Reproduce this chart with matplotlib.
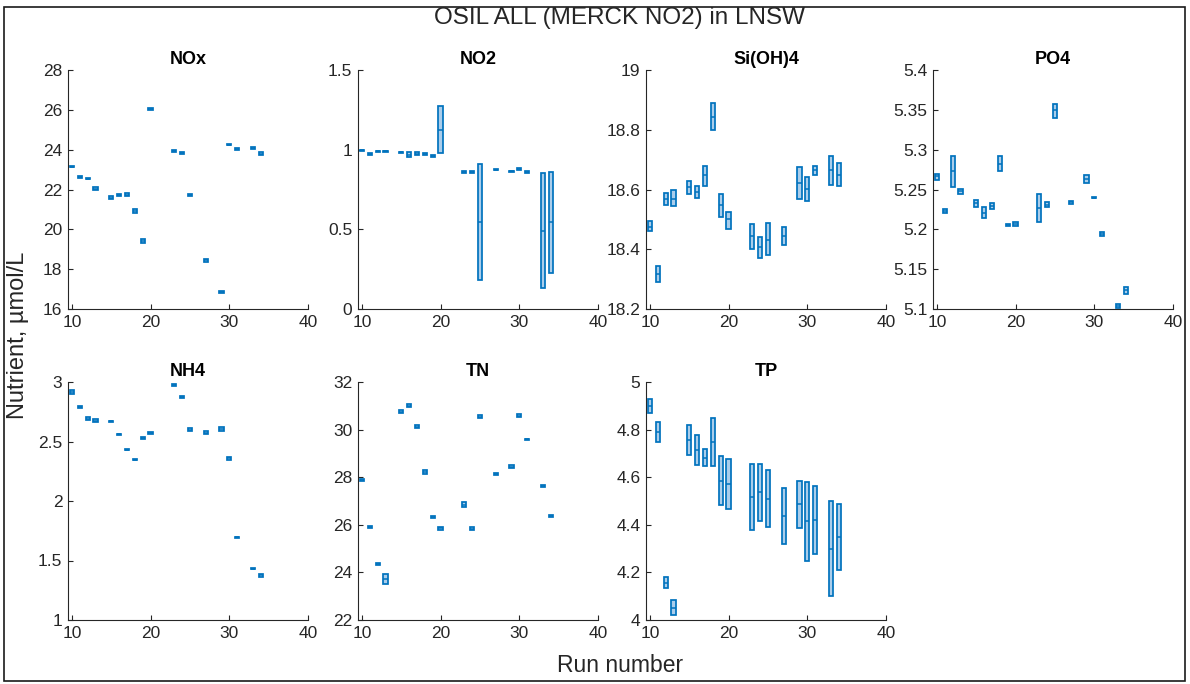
import matplotlib
matplotlib.use("Agg")
import matplotlib.pyplot as plt
from matplotlib.patches import Rectangle
from matplotlib.ticker import FuncFormatter

plt.rcParams['font.family'] = ['Liberation Sans', 'DejaVu Sans']

# Run numbers shared by every nutrient
runs = [10, 11, 12, 13, 15, 16, 17, 18, 19, 20, 23, 24, 25, 27, 29, 30, 31, 33, 34]

# NOx (µmol/L): minimum, maximum, mean per run
nox_lo = [23.11, 22.59, 22.51, 21.96, 21.53, 21.67, 21.68, 20.83, 19.30, 25.97,
          23.88, 23.80, 21.67, 18.38, 16.79, 24.21, 24.00, 24.02, 23.73]
nox_hi = [23.19, 22.67, 22.57, 22.12, 21.65, 21.77, 21.80, 21.01, 19.52, 26.11,
          23.96, 23.90, 21.77, 18.50, 16.89, 24.29, 24.06, 24.12, 23.87]
nox_mean = [23.15, 22.63, 22.54, 22.04, 21.59, 21.72, 21.74, 20.92, 19.41, 26.04,
            23.92, 23.85, 21.72, 18.44, 16.84, 24.25, 24.03, 24.07, 23.80]

# NO2
no2_lo = [0.992, 0.968, 0.986, 0.986, 0.979, 0.952, 0.967, 0.969, 0.956, 0.979,
          0.856, 0.856, 0.179, 0.871, 0.861, 0.875, 0.853, 0.129, 0.229]
no2_hi = [1.000, 0.978, 0.994, 0.994, 0.987, 0.983, 0.983, 0.977, 0.964, 1.271,
          0.864, 0.864, 0.913, 0.879, 0.869, 0.884, 0.863, 0.856, 0.860]
no2_mean = [0.996, 0.973, 0.990, 0.990, 0.983, 0.965, 0.975, 0.973, 0.960, 1.125,
            0.860, 0.860, 0.546, 0.875, 0.865, 0.879, 0.858, 0.492, 0.546]

# Si(OH)4
si_lo = [18.460, 18.289, 18.549, 18.545, 18.584, 18.572, 18.612, 18.800, 18.508, 18.467,
         18.401, 18.370, 18.381, 18.414, 18.568, 18.563, 18.649, 18.616, 18.612]
si_hi = [18.493, 18.345, 18.588, 18.599, 18.628, 18.612, 18.677, 18.889, 18.586, 18.525,
         18.484, 18.441, 18.487, 18.476, 18.675, 18.641, 18.680, 18.713, 18.688]
si_mean = [18.476, 18.317, 18.568, 18.569, 18.610, 18.590, 18.647, 18.844, 18.547, 18.502,
           18.443, 18.406, 18.432, 18.443, 18.621, 18.601, 18.666, 18.666, 18.649]

# PO4
po4_lo = [5.2625, 5.2208, 5.2533, 5.2442, 5.2283, 5.2142, 5.2250, 5.2729, 5.2046, 5.2046,
          5.2096, 5.2275, 5.3400, 5.2317, 5.2583, 5.2390, 5.1921, 5.1008, 5.1192]
po4_hi = [5.2700, 5.2258, 5.2917, 5.2508, 5.2367, 5.2275, 5.2333, 5.2917, 5.2062, 5.2096,
          5.2442, 5.2342, 5.3575, 5.2358, 5.2679, 5.2402, 5.1967, 5.1067, 5.1275]
po4_mean = [5.2667, 5.2233, 5.2729, 5.2475, 5.2325, 5.2208, 5.2292, 5.2825, 5.2054, 5.2071,
            5.2271, 5.2308, 5.3492, 5.2338, 5.2633, 5.2396, 5.1946, 5.1037, 5.1233]

# NH4
nh4_lo = [2.897, 2.778, 2.678, 2.661, 2.664, 2.555, 2.426, 2.344, 2.520, 2.564,
          2.964, 2.866, 2.588, 2.563, 2.585, 2.347, 1.688, 1.425, 1.363]
nh4_hi = [2.936, 2.802, 2.706, 2.685, 2.676, 2.567, 2.438, 2.352, 2.540, 2.580,
          2.980, 2.882, 2.612, 2.587, 2.621, 2.371, 1.700, 1.437, 1.387]
nh4_mean = [2.916, 2.790, 2.692, 2.673, 2.670, 2.561, 2.432, 2.348, 2.530, 2.572,
            2.972, 2.874, 2.600, 2.575, 2.603, 2.359, 1.694, 1.431, 1.375]

# TN
tn_lo = [27.86, 25.85, 24.33, 23.53, 30.71, 30.94, 30.07, 28.14, 26.29, 25.80,
         26.75, 25.77, 30.50, 28.10, 28.37, 30.52, 29.57, 27.60, 26.33]
tn_hi = [27.94, 25.93, 24.39, 23.95, 30.81, 31.06, 30.19, 28.32, 26.39, 25.90,
         26.95, 25.91, 30.60, 28.18, 28.51, 30.66, 29.61, 27.66, 26.41]
tn_mean = [27.90, 25.89, 24.36, 23.74, 30.76, 31.00, 30.13, 28.23, 26.34, 25.85,
           26.85, 25.84, 30.55, 28.14, 28.44, 30.59, 29.59, 27.63, 26.37]

# TP
tp_lo = [4.868, 4.748, 4.135, 4.019, 4.692, 4.653, 4.645, 4.649, 4.482, 4.465,
         4.379, 4.416, 4.390, 4.320, 4.386, 4.247, 4.279, 4.102, 4.209]
tp_hi = [4.928, 4.831, 4.181, 4.084, 4.818, 4.779, 4.720, 4.847, 4.688, 4.677,
         4.655, 4.656, 4.630, 4.554, 4.585, 4.578, 4.561, 4.499, 4.487]
tp_mean = [4.898, 4.790, 4.157, 4.052, 4.756, 4.714, 4.682, 4.748, 4.585, 4.571,
           4.517, 4.536, 4.510, 4.437, 4.486, 4.415, 4.421, 4.300, 4.350]

panel_titles = ['NOx', 'NO2', 'Si(OH)4', 'PO4', 'NH4', 'TN', 'TP']
panel_data = [(nox_lo, nox_hi, nox_mean), (no2_lo, no2_hi, no2_mean),
              (si_lo, si_hi, si_mean), (po4_lo, po4_hi, po4_mean),
              (nh4_lo, nh4_hi, nh4_mean), (tn_lo, tn_hi, tn_mean),
              (tp_lo, tp_hi, tp_mean)]
panel_ylims = [(16, 28), (0, 1.5), (18.2, 19), (5.1, 5.4), (1, 3), (22, 32), (4, 5)]
panel_ysteps = [2, 0.5, 0.2, 0.05, 0.5, 2, 0.2]
x_ticks = [10, 20, 30, 40]

EDGE = '#0072BD'
FACE = '#aacdeb'
AXC = '#262626'
W = 0.55

W_PX, H_PX = 1190, 684
fig = plt.figure(figsize=(W_PX / 100, H_PX / 100), dpi=100)

lefts = [68, 358, 646, 933]
ax_w = 240
rows = [(70, 309), (382, 620)]


def gfmt(v, _pos):
    return ('%.4f' % v).rstrip('0').rstrip('.')


for i, (name, (lo, hi, mean)) in enumerate(zip(panel_titles, panel_data)):
    r, c = divmod(i, 4)
    top, bot = rows[r]
    ax = fig.add_axes([lefts[c] / W_PX, 1 - bot / H_PX, ax_w / W_PX, (bot - top) / H_PX])
    for x, a, b, m in zip(runs, lo, hi, mean):
        ax.add_patch(Rectangle((x - W / 2, a), W, b - a, facecolor=FACE,
                               edgecolor=EDGE, linewidth=1.25, zorder=2))
        ax.plot([x - W / 2, x + W / 2], [m, m], color=EDGE, lw=1.1,
                solid_capstyle='butt', zorder=3)
    ax.set_xlim(9.5, 40)
    y0, y1 = panel_ylims[i]
    ax.set_ylim(y0, y1)
    step = panel_ysteps[i]
    n = int(round((y1 - y0) / step))
    ax.set_yticks([y0 + k * step for k in range(n + 1)])
    ax.yaxis.set_major_formatter(FuncFormatter(gfmt))
    ax.set_xticks(x_ticks)
    for s in ('top', 'right'):
        ax.spines[s].set_visible(False)
    for s in ('left', 'bottom'):
        ax.spines[s].set_color(AXC)
        ax.spines[s].set_linewidth(0.8)
    ax.tick_params(direction='in', length=3.5, width=0.8, color=AXC,
                   labelcolor=AXC, labelsize=12.5, pad=4)
    ax.set_title(name, fontsize=13, fontweight='bold', color='black', pad=4)
    ax.set_facecolor('white')

fig.text(620 / W_PX, 1 - 18 / H_PX, 'OSIL ALL (MERCK NO2) in LNSW', ha='center',
         va='center', fontsize=17.5, color=AXC)
fig.text(620 / W_PX, 1 - 665 / H_PX, 'Run number', ha='center', va='center',
         fontsize=16.5, color=AXC)
fig.text(18 / W_PX, 1 - 335 / H_PX, 'Nutrient, µmol/L', ha='center', va='center',
         rotation=90, fontsize=17, color=AXC)

# Outer frame around the whole figure
fig.add_artist(Rectangle((4 / W_PX, 1 - 681 / H_PX), 1181 / W_PX, 674 / H_PX,
                         transform=fig.transFigure, fill=False, edgecolor='#1a1a1a',
                         linewidth=1.2))

fig.savefig('out.png', dpi=100, facecolor='white')
